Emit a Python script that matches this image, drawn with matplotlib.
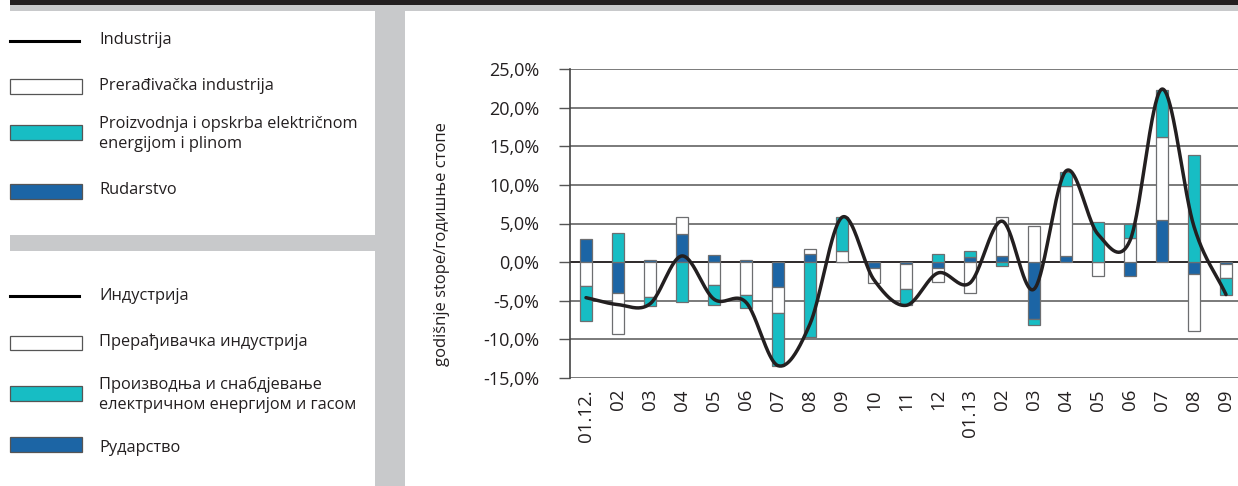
import numpy as np
import matplotlib
matplotlib.use("Agg")
import matplotlib.pyplot as plt
from matplotlib.patches import Rectangle
from matplotlib.lines import Line2D

# ---- data: annual growth rates (%) ----
months = ["01.12.", "02", "03", "04", "05", "06", "07", "08", "09", "10", "11", "12",
          "01.13", "02", "03", "04", "05", "06", "07", "08", "09"]
rudarstvo = [3.0, -4.0, 0.3, 3.6, 0.9, 0.3, -3.2, 1.0, 0.0, -0.7, -0.3, -0.8,
             0.6, 0.8, -7.4, 0.8, 0.0, -1.8, 5.5, -1.6, -0.2]
preradjivacka = [-3.1, -5.3, -4.5, 2.3, -3.0, -4.2, -3.4, 0.7, 1.5, -2.0, -3.2, -1.8,
                 -4.0, 5.0, 4.7, 9.0, -1.8, 3.1, 10.7, -7.3, -1.9]
energija = [-4.5, 3.8, -1.2, -5.2, -2.6, -1.7, -6.8, -9.7, 4.3, 0.0, -2.0, 1.1,
            0.8, -0.5, -0.7, 1.9, 5.2, 1.8, 6.1, 13.9, -2.2]
industrija = [-4.6, -5.5, -5.4, 0.8, -4.8, -5.2, -13.4, -8.0, 5.8, -2.3, -5.6, -1.4,
              -2.7, 5.3, -3.5, 11.8, 3.6, 2.8, 22.4, 4.6, -4.2]
yticks = [25, 20, 15, 10, 5, 0, -5, -10, -15]

W, H = 1238, 486
CYAN = "#17bdc4"
BLUE = "#1c65a5"
GRAY = "#c8c9cb"
DARK = "#231f20"
FONT = ["Open Sans", "DejaVu Sans"]
plt.rcParams["font.family"] = FONT
plt.rcParams["text.color"] = DARK

fig = plt.figure(figsize=(W / 100, H / 100), dpi=100)


def px_rect(x0, y0, x1, y1, **kw):
    """Rectangle given in pixel coordinates measured from the top-left corner."""
    fig.add_artist(Rectangle((x0 / W, 1 - y1 / H), (x1 - x0) / W, (y1 - y0) / H,
                             transform=fig.transFigure, **kw))


# page decoration
px_rect(10, 0, W, 5.5, facecolor=DARK, edgecolor="none")
px_rect(10, 5.5, W, 11, facecolor=GRAY, edgecolor="none")
px_rect(375, 11, 405, H, facecolor=GRAY, edgecolor="none")
px_rect(10, 235, 375, 251, facecolor=GRAY, edgecolor="none")

# ---- chart ----
ax_l, ax_r, ax_t, ax_b = 570, 1238, 69, 378
ax = fig.add_axes([ax_l / W, 1 - ax_b / H, (ax_r - ax_l) / W, (ax_b - ax_t) / H])
step = 32.0
ax.set_xlim(-0.5, -0.5 + (ax_r - ax_l) / step)
ax.set_ylim(-15, 25)

x = np.arange(len(months))
width = 0.35
pos_base = np.zeros(len(x))
neg_base = np.zeros(len(x))
for vals, col in [(rudarstvo, BLUE), (preradjivacka, "white"), (energija, CYAN)]:
    v = np.array(vals, dtype=float)
    bottoms = np.where(v >= 0, pos_base, neg_base)
    ax.bar(x, v, width, bottom=bottoms, color=col, edgecolor="#6d6e70",
           linewidth=0.9, zorder=3)
    pos_base += np.where(v >= 0, v, 0)
    neg_base += np.where(v < 0, v, 0)

# smoothed line (Catmull-Rom through the monthly points)
p = np.array(industrija, dtype=float)
n = len(p)
tang = np.zeros(n)
tang[1:-1] = (p[2:] - p[:-2]) / 2
tang[0] = p[1] - p[0]
tang[-1] = p[-1] - p[-2]
xs, ys = [], []
t = np.linspace(0, 1, 40)
h00 = 2 * t**3 - 3 * t**2 + 1
h10 = t**3 - 2 * t**2 + t
h01 = -2 * t**3 + 3 * t**2
h11 = t**3 - t**2
for i in range(n - 1):
    xs.append(x[i] + t)
    ys.append(h00 * p[i] + h10 * tang[i] + h01 * p[i + 1] + h11 * tang[i + 1])
ax.plot(np.concatenate(xs), np.concatenate(ys), color=DARK, lw=2.5, zorder=5,
        solid_capstyle="round")

ax.set_yticks(yticks)
ax.set_yticklabels([f"{v:.1f}%".replace(".", ",") for v in yticks], fontsize=13)
ax.yaxis.grid(True, color="#7a7a7a", lw=1.4, zorder=0)
ax.axhline(0, color=DARK, lw=1.2, zorder=2)
ax.set_axisbelow(True)
ax.set_xticks(x)
ax.set_xticklabels(months, rotation=90, fontsize=13.5, va="top")
ax.tick_params(axis="x", length=0, pad=8, labelcolor=DARK)
ax.tick_params(axis="y", length=8, width=1.0, color="#555555", pad=14,
               labelcolor=DARK)
for s in ["top", "right", "bottom"]:
    ax.spines[s].set_visible(False)
ax.spines["left"].set_color("#444444")
ax.spines["left"].set_linewidth(1.2)
ax.set_ylabel("godišnje stope/годишње стопе", fontsize=12, color=DARK)
ax.yaxis.set_label_coords((450 - ax_l) / (ax_r - ax_l), (ax_b - 244) / (ax_b - ax_t))
ax.patch.set_alpha(0)

# ---- legend panel ----
def legend_line(y):
    fig.add_artist(Line2D([10 / W, 79 / W], [1 - y / H, 1 - y / H],
                          transform=fig.transFigure, color="black", lw=2.2))


def legend_box(y0, y1, col):
    px_rect(10, y0, 82, y1, facecolor=col, edgecolor="#555555", linewidth=0.9)


def legend_text(y, s):
    fig.text(99 / W, 1 - y / H, s, fontsize=11.8, va="center", ha="left",
             linespacing=1.3)


legend_line(41)
legend_text(40, "Industrija")
legend_box(79, 94, "white")
legend_text(86, "Prerađivačka industrija")
legend_box(125, 140, CYAN)
legend_text(134, "Proizvodnja i opskrba električnom\nenergijom i plinom")
legend_box(184, 199, BLUE)
legend_text(190, "Rudarstvo")

legend_line(296)
legend_text(296, "Индустрија")
legend_box(336, 350, "white")
legend_text(342, "Прерађивачка индустрија")
legend_box(386, 401, CYAN)
legend_text(395, "Производња и снабдјевање\nелектричном енергијом и гасом")
legend_box(437, 452, BLUE)
legend_text(448, "Рударство")

fig.savefig("out.png", dpi=100)
